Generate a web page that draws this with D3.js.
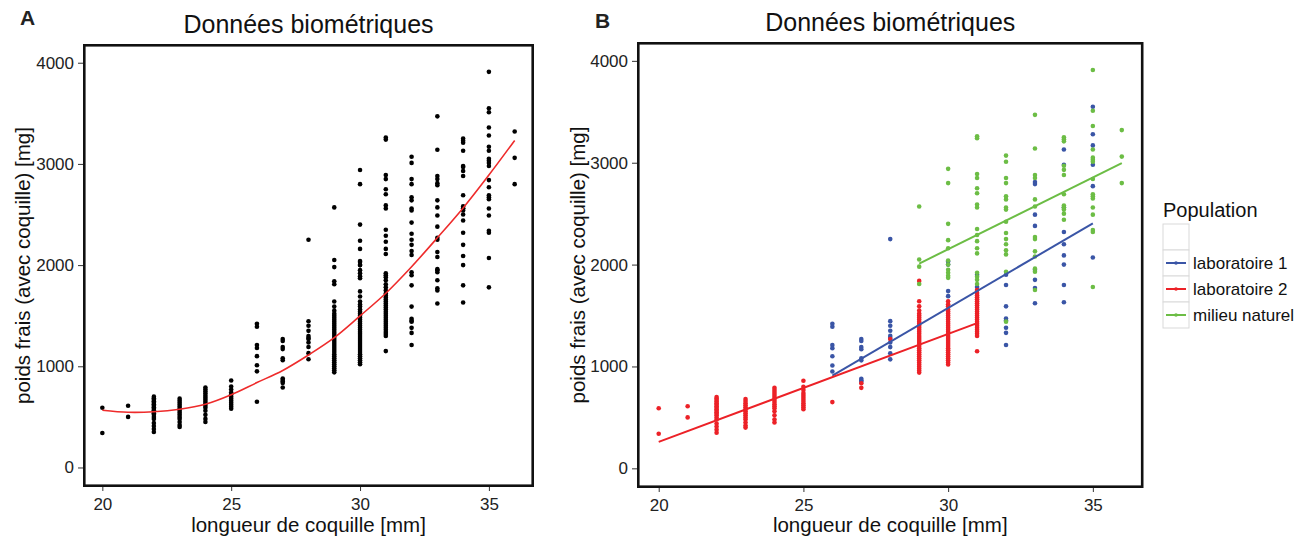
<!DOCTYPE html>
<html lang="fr">
<head>
    <meta charset="UTF-8">
    <title>Données biométriques</title>
    <style>
        body {
            margin: 0;
            padding: 0;
            background-color: #ffffff;
            font-family: "Liberation Sans", Arial, sans-serif;
        }
        svg text { font-family: "Liberation Sans", Arial, sans-serif; }
    </style>
</head>
<body>
    <div id="chart"></div>
    <script src="https://d3js.org/d3.v7.min.js"></script>
    <script>
        // Shell length classes (mm)
        const lengths = [20, 21, 22, 23, 24, 25, 26, 27, 28, 29, 30, 31, 32, 33, 34, 35, 36];

        // Fresh weight (mg) per length class, one list per population
        const lab1 = [
            [], [], [], [], [], [],
            [1420, 1390, 1210, 1180, 1100, 1010, 950],
            [1270, 1250, 1190, 1170, 1080, 1060, 880, 865, 850],
            [2250, 1445, 1400, 1350, 1300, 1280, 1235, 1190, 1130, 1070],
            [],
            [2030, 2000, 1740, 1690],
            [1900, 1780],
            [1900, 1800, 1590, 1470, 1450, 1380, 1330, 1210],
            [2810, 2790, 2490, 2380, 1950, 1850, 1770, 1620],
            [3130, 2980, 2560, 2320, 2200, 2090, 2000, 1800, 1630],
            [3550, 3280, 3170, 2980, 2770, 2070],
            []
        ];
        const lab2 = [
            [590, 340],
            [610, 500],
            [700, 685, 670, 655, 640, 625, 610, 595, 580, 565, 550, 535, 520, 500, 480, 440, 410, 380, 350],
            [680, 660, 640, 620, 600, 580, 560, 540, 520, 500, 480, 450, 420, 400],
            [790, 770, 750, 730, 710, 690, 670, 650, 630, 610, 590, 560, 520, 480, 450],
            [860, 800, 770, 740, 720, 700, 680, 660, 640, 620, 600, 580],
            [650],
            [835, 790],
            [1270],
            [1840, 1640, 1590, 1550, 1520, 1500, 1480, 1460, 1440, 1420, 1400, 1380, 1360, 1340, 1320, 1300,
             1280, 1260, 1240, 1220, 1200, 1180, 1160, 1140, 1120, 1100, 1080, 1060, 1040, 1020, 1000, 980, 960, 940],
            [1640, 1610, 1590, 1560, 1540, 1520, 1500, 1480, 1460, 1440, 1420, 1400, 1380, 1360, 1340, 1320,
             1300, 1280, 1260, 1240, 1220, 1200, 1180, 1160, 1140, 1120, 1100, 1080, 1060, 1040, 1020],
            [1750, 1720, 1700, 1680, 1660, 1640, 1620, 1600, 1580, 1560, 1540, 1520, 1500, 1480, 1460, 1440,
             1420, 1400, 1380, 1360, 1340, 1320, 1300, 1150],
            [], [], [], [], []
        ];
        const milieu = [
            [], [], [], [], [], [], [], [], [],
            [2570, 2050, 1980, 1810],
            [2940, 2800, 2400, 2240, 2160, 2040, 2000, 1950, 1920, 1890, 1870],
            [3260, 3240, 2890, 2850, 2750, 2700, 2590, 2560, 2350, 2290, 2230, 2160, 2110, 1920, 1880, 1850, 1810],
            [3070, 3010, 2850, 2800, 2670, 2640, 2560, 2540, 2420, 2310, 2250, 2200, 2140, 2100, 1930, 1440],
            [3470, 3140, 2880, 2850, 2640, 2570, 2270, 2250, 2130, 2080, 1960, 1930, 1750],
            [3250, 3230, 3210, 2970, 2930, 2880, 2690, 2580, 2560, 2540, 2500, 2440],
            [3910, 3510, 3360, 3130, 3050, 3030, 3010, 2840, 2690, 2670, 2650, 2560, 2490, 2340, 2320, 1780],
            [3320, 3060, 2800]
        ];

        // Smoothed curve for panel A (value at each length class)
        const smoothA = [565, 545, 550, 575, 625, 719, 839, 959, 1112, 1283, 1498, 1722, 1984, 2270, 2565, 2890, 3232];

        // Linear fits for panel B: [x start, x end] and [y start, y end]
        const fitLab1X = [26, 35], fitLab1Y = [910, 2405];
        const fitLab2X = [20, 31], fitLab2Y = [260, 1425];
        const fitMilieuX = [29, 36], fitMilieuY = [2010, 2995];

        const populations = ['laboratoire 1', 'laboratoire 2', 'milieu naturel'];
        const popColors = ['#3a55a6', '#ec2127', '#6cbd45'];
        const xTicks = [20, 25, 30, 35];
        const yTicks = [0, 1000, 2000, 3000, 4000];

        const width = 1307, height = 541;
        const xDomain = [19.25, 36.75];
        const yDomain = [-193, 4185];

        const svg = d3.select('#chart')
            .append('svg')
            .attr('width', width)
            .attr('height', height);

        function toPoints(list, pop) {
            const pts = [];
            list.forEach((vals, i) => vals.forEach(v => pts.push({ x: lengths[i], y: v, pop })));
            return pts;
        }

        const allPoints = [
            ...toPoints(lab1, 0),
            ...toPoints(lab2, 1),
            ...toPoints(milieu, 2)
        ];

        function drawPanel(p) {
            const x = d3.scaleLinear().domain(xDomain).range([p.left, p.right]);
            const y = d3.scaleLinear().domain(yDomain).range([p.bottom, p.top]);
            const g = svg.append('g');

            // axes (ticks outside the frame)
            const xAxis = g.append('g')
                .attr('transform', `translate(0,${p.bottom})`)
                .call(d3.axisBottom(x).tickValues(xTicks).tickFormat(d3.format('d')).tickSize(4).tickPadding(3));
            const yAxis = g.append('g')
                .attr('transform', `translate(${p.left},0)`)
                .call(d3.axisLeft(y).tickValues(yTicks).tickFormat(d3.format('d')).tickSize(5).tickPadding(4));
            [xAxis, yAxis].forEach(a => {
                a.select('.domain').remove();
                a.selectAll('line').attr('stroke', '#333');
                a.selectAll('text').attr('fill', '#222').style('font-size', '17px');
            });
            xAxis.selectAll('text').attr('dy', '0.95em');

            // points
            g.selectAll('.pt')
                .data(allPoints)
                .join('circle')
                .attr('class', 'pt')
                .attr('cx', d => x(d.x))
                .attr('cy', d => y(d.y))
                .attr('r', 2.3)
                .attr('fill', d => p.colored ? popColors[d.pop] : '#000');

            if (!p.colored) {
                const line = d3.line()
                    .x((d, i) => x(lengths[i]))
                    .y(d => y(d))
                    .curve(d3.curveCatmullRom);
                g.append('path')
                    .datum(smoothA)
                    .attr('fill', 'none')
                    .attr('stroke', '#ee2b2b')
                    .attr('stroke-width', 1.6)
                    .attr('d', line);
            } else {
                const fits = [[fitLab1X, fitLab1Y], [fitLab2X, fitLab2Y], [fitMilieuX, fitMilieuY]];
                fits.forEach(([fx, fy], k) => {
                    g.append('line')
                        .attr('x1', x(fx[0])).attr('y1', y(fy[0]))
                        .attr('x2', x(fx[1])).attr('y2', y(fy[1]))
                        .attr('stroke', popColors[k])
                        .attr('stroke-width', 2);
                });
            }

            // frame
            g.append('rect')
                .attr('x', p.left + 1.3)
                .attr('y', p.top + 1.3)
                .attr('width', p.right - p.left - 2.6)
                .attr('height', p.bottom - p.top - 2.6)
                .attr('fill', 'none')
                .attr('stroke', '#111')
                .attr('stroke-width', 2.6);

            // titles
            const cx = (p.left + p.right) / 2;
            g.append('text')
                .attr('x', cx).attr('y', p.titleY)
                .attr('text-anchor', 'middle')
                .style('font-size', '25px')
                .attr('fill', '#111')
                .text('Données biométriques');
            g.append('text')
                .attr('x', cx).attr('y', 532)
                .attr('text-anchor', 'middle')
                .style('font-size', '20.5px')
                .attr('fill', '#111')
                .text('longueur de coquille [mm]');
            g.append('text')
                .attr('transform', `translate(${p.yTitleX},${(p.top + p.bottom) / 2}) rotate(-90)`)
                .attr('text-anchor', 'middle')
                .style('font-size', '20.5px')
                .attr('fill', '#111')
                .text('poids frais (avec coquille) [mg]');
            g.append('text')
                .attr('x', p.letterX).attr('y', p.letterY)
                .style('font-size', '21px')
                .style('font-weight', 'bold')
                .attr('fill', '#222')
                .text(p.letter);
        }

        drawPanel({ left: 83, right: 534, top: 44, bottom: 487, colored: false,
            titleY: 33, yTitleX: 30, letter: 'A', letterX: 20, letterY: 25 });
        drawPanel({ left: 637, right: 1143.5, top: 42, bottom: 488, colored: true,
            titleY: 31, yTitleX: 585, letter: 'B', letterX: 595, letterY: 28 });

        // legend for panel B
        const legend = svg.append('g');
        legend.append('text')
            .attr('x', 1163).attr('y', 217)
            .style('font-size', '20px')
            .attr('fill', '#111')
            .text('Population');
        const keys = ['', ...populations];
        const keySize = 26, keyTop = 224, keyLeft = 1163;
        keys.forEach((name, i) => {
            const ky = keyTop + i * keySize;
            legend.append('rect')
                .attr('x', keyLeft).attr('y', ky)
                .attr('width', keySize).attr('height', keySize)
                .attr('fill', '#fff')
                .attr('stroke', '#d9d9d9')
                .attr('stroke-width', 1);
            if (name === '') return;
            const c = popColors[i - 1];
            legend.append('line')
                .attr('x1', keyLeft + 3).attr('x2', keyLeft + keySize - 3)
                .attr('y1', ky + keySize / 2).attr('y2', ky + keySize / 2)
                .attr('stroke', c).attr('stroke-width', 2);
            legend.append('circle')
                .attr('cx', keyLeft + keySize / 2).attr('cy', ky + keySize / 2)
                .attr('r', 1.8).attr('fill', c);
            legend.append('text')
                .attr('x', keyLeft + keySize + 4).attr('y', ky + keySize / 2 + 6)
                .style('font-size', '17px')
                .attr('fill', '#111')
                .text(name);
        });
    </script>
</body>
</html>
